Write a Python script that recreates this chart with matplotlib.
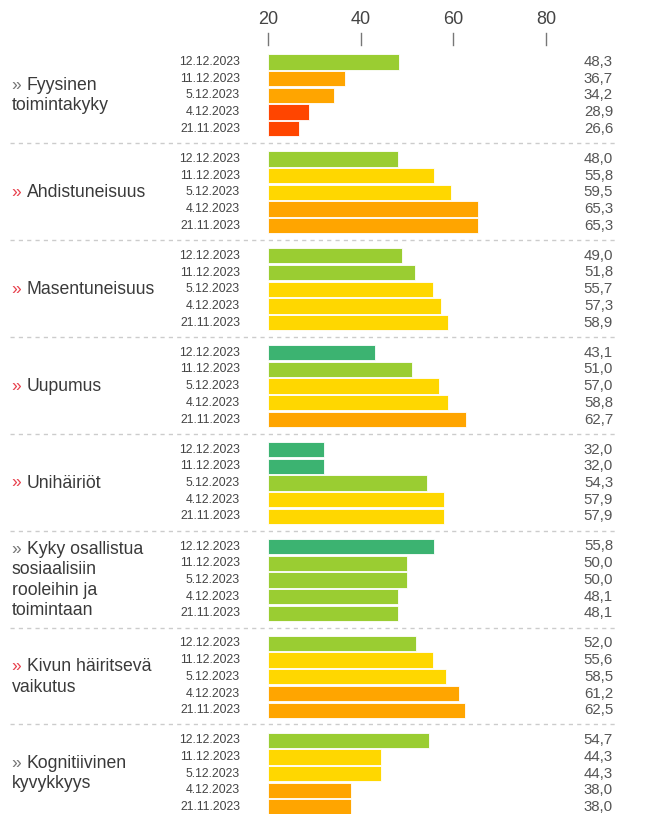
import numpy as np
import matplotlib
matplotlib.use("Agg")
from matplotlib import pyplot as plt

plt.rcParams['font.family'] = ['Liberation Sans', 'DejaVu Sans']

# data
categories = [
    ["Fyysinen", "toimintakyky"],
    ["Ahdistuneisuus"],
    ["Masentuneisuus"],
    ["Uupumus"],
    ["Unihäiriöt"],
    ["Kyky osallistua", "sosiaalisiin", "rooleihin ja", "toimintaan"],
    ["Kivun häiritsevä", "vaikutus"],
    ["Kognitiivinen", "kyvykkyys"],
]
red_marker = [False, True, True, True, True, False, True, False]
dates = ["12.12.2023", "11.12.2023", "5.12.2023", "4.12.2023", "21.11.2023"]

fyysinen = [48.3, 36.7, 34.2, 28.9, 26.6]
ahdistuneisuus = [48.0, 55.8, 59.5, 65.3, 65.3]
masentuneisuus = [49.0, 51.8, 55.7, 57.3, 58.9]
uupumus = [43.1, 51.0, 57.0, 58.8, 62.7]
unihairiot = [32.0, 32.0, 54.3, 57.9, 57.9]
sosiaaliset = [55.8, 50.0, 50.0, 48.1, 48.1]
kipu = [52.0, 55.6, 58.5, 61.2, 62.5]
kognitiivinen = [54.7, 44.3, 44.3, 38.0, 38.0]

# colour class of each bar
fyysinen_c = ["yellowgreen", "orange", "orange", "orangered", "orangered"]
ahdistuneisuus_c = ["yellowgreen", "gold", "gold", "orange", "orange"]
masentuneisuus_c = ["yellowgreen", "yellowgreen", "gold", "gold", "gold"]
uupumus_c = ["mediumseagreen", "yellowgreen", "gold", "gold", "orange"]
unihairiot_c = ["mediumseagreen", "mediumseagreen", "yellowgreen", "gold", "gold"]
sosiaaliset_c = ["mediumseagreen", "yellowgreen", "yellowgreen", "yellowgreen", "yellowgreen"]
kipu_c = ["yellowgreen", "gold", "gold", "orange", "orange"]
kognitiivinen_c = ["yellowgreen", "gold", "gold", "orange", "orange"]

values = [fyysinen, ahdistuneisuus, masentuneisuus, uupumus,
          unihairiot, sosiaaliset, kipu, kognitiivinen]
colors = [fyysinen_c, ahdistuneisuus_c, masentuneisuus_c, uupumus_c,
          unihairiot_c, sosiaaliset_c, kipu_c, kognitiivinen_c]
xticks = [20, 40, 60, 80]

W, H = 653, 814
fig = plt.figure(figsize=(W / 100, H / 100), dpi=100)
ax = fig.add_axes([0, 0, 1, 1])
ax.axis("off")

# value axis: 20 sits at px 268, 80 at px 546
px_per_unit = (546 - 268) / 60
def px(p):
    return 20 + (p - 268) / px_per_unit

ax.set_xlim(px(0), px(W))
ax.set_ylim(H, 0)

first_row = 62
group_step = 96.9
row_step = 16.7
base = 20

txt = "#3a3a3a"
for g, vals in enumerate(values):
    y0 = first_row + g * group_step
    ys = y0 + np.arange(len(vals)) * row_step
    ax.barh(ys, np.array(vals) - base, left=base, height=row_step * 0.92,
            color=colors[g], edgecolor="white", linewidth=0.6)
    for y, d, v in zip(ys, dates, vals):
        ax.text(px(240), y, d, ha="right", va="center", fontsize=8.8, color="#444444")
        ax.text(px(613), y, f"{v:.1f}".replace(".", ","), ha="right", va="center",
                fontsize=10.8, color="#555555")
    # category label, one line at a time, marker in its own colour
    lines = categories[g]
    yc = y0 + 2 * row_step
    lh = 20.5
    for i, line in enumerate(lines):
        yl = yc + (i - (len(lines) - 1) / 2) * lh
        if i == 0:
            ax.text(px(11), yl, "»", ha="left", va="center", fontsize=12.5,
                    color="#e8434f" if red_marker[g] else "#777777")
            ax.text(px(27), yl, line, ha="left", va="center", fontsize=12.7, color=txt)
        else:
            ax.text(px(12), yl, line, ha="left", va="center", fontsize=12.7, color=txt)
    # dashed separator
    if g < len(values) - 1:
        ax.plot([px(10), px(615)], [y0 + 81, y0 + 81], color="#cccccc",
                linewidth=1, linestyle=(0, (3, 3)))

# axis ticks on top
for t in xticks:
    ax.text(t, 20, str(t), ha="center", va="center", fontsize=13,
            family=["Liberation Sans Narrow", "Liberation Sans"], color="#444444")
    ax.plot([t, t], [33, 45], color="#777777", linewidth=1)

plt.savefig("out.png", dpi=100)
plt.close()
